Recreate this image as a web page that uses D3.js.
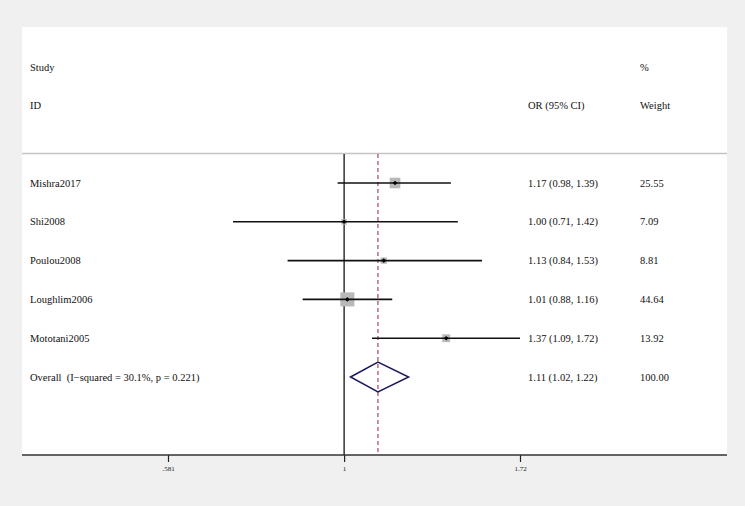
<!DOCTYPE html>
<html><head><meta charset="utf-8">
<script src="https://cdn.jsdelivr.net/npm/d3@7"></script>
<style>body{margin:0;background:#f0f0f0;}svg{display:block;}text{white-space:pre;}</style>
</head><body>
<svg id="c" width="745" height="506"></svg>
<script>
const studies = ["Mishra2017","Shi2008","Poulou2008","Loughlim2006","Mototani2005"];
const orVals = [1.17, 1.00, 1.13, 1.01, 1.37];
const lower = [0.98, 0.71, 0.84, 0.88, 1.09];
const upper = [1.39, 1.42, 1.53, 1.16, 1.72];
const weights = [25.55, 7.09, 8.81, 44.64, 13.92];
const overall = {label:"Overall  (I\u2212squared = 30.1%, p = 0.221)", or:1.11, lo:1.02, hi:1.22, w:100.00};
const tickVals = [0.581, 1, 1.72];
const tickLabels = [".581","1","1.72"];

(function(){
const svg = d3.select("#c");
const font = "'Liberation Serif','Times New Roman',serif";
const pLeft = 22, pRight = 727, pTop = 27, axisY = 455;

svg.append("rect").attr("x",pLeft).attr("y",pTop).attr("width",pRight-pLeft).attr("height",axisY-pTop).attr("fill","#fff");

const x = d3.scaleLog().domain([0.581,1.72]).range([168,520]);
const rows = studies.concat(["__overall"]);
const y = d3.scalePoint().domain(rows).range([183,377]);

const hdr = svg.append("g").attr("font-family",font).attr("font-size",10.5).attr("fill","#111");
hdr.append("text").attr("x",30).attr("y",71).text("Study");
hdr.append("text").attr("x",30).attr("y",109).text("ID");
hdr.append("text").attr("x",528).attr("y",109).text("OR (95% CI)");
hdr.append("text").attr("x",640).attr("y",71).text("%");
hdr.append("text").attr("x",640).attr("y",109).text("Weight");

svg.append("line").attr("x1",pLeft).attr("x2",pRight).attr("y1",153.5).attr("y2",153.5).attr("stroke","#c4c4c4").attr("stroke-width",1.3);

svg.append("line").attr("x1",x(1)).attr("x2",x(1)).attr("y1",154).attr("y2",axisY).attr("stroke","#000").attr("stroke-width",1.2);
svg.append("line").attr("x1",x(overall.or)).attr("x2",x(overall.or)).attr("y1",154).attr("y2",axisY)
  .attr("stroke","#9b2335").attr("stroke-width",1).attr("stroke-dasharray","4,3");

const data = studies.map((s,i)=>({s, or:orVals[i], lo:lower[i], hi:upper[i], w:weights[i]}));
const g = svg.append("g");
data.forEach(d=>{
  const cy = y(d.s);
  const side = Math.sqrt(d.w)*2.1;
  g.append("rect").attr("x",x(d.or)-side/2).attr("y",cy-side/2).attr("width",side).attr("height",side).attr("fill","#b8b8b8");
  g.append("line").attr("x1",x(d.lo)).attr("x2",x(d.hi)).attr("y1",cy).attr("y2",cy).attr("stroke","#111").attr("stroke-width",1.6);
  g.append("path").attr("d",`M${x(d.or)-2.3},${cy}L${x(d.or)},${cy-2.3}L${x(d.or)+2.3},${cy}L${x(d.or)},${cy+2.3}Z`).attr("fill","#000");
  const t = g.append("g").attr("font-family",font).attr("font-size",10.5).attr("fill","#111");
  t.append("text").attr("x",30).attr("y",cy+3.5).text(d.s);
  t.append("text").attr("x",528).attr("y",cy+3.5).text(`${d.or.toFixed(2)} (${d.lo.toFixed(2)}, ${d.hi.toFixed(2)})`);
  t.append("text").attr("x",640).attr("y",cy+3.5).text(d.w.toFixed(2));
});

const oy = y("__overall");
svg.append("path").attr("d",`M${x(overall.lo)},${oy}L${x(overall.or)},${oy-15}L${x(overall.hi)},${oy}L${x(overall.or)},${oy+15}Z`)
  .attr("fill","none").attr("stroke","#1a1a5e").attr("stroke-width",1.5);
const ot = svg.append("g").attr("font-family",font).attr("font-size",10.5).attr("fill","#111");
ot.append("text").attr("x",30).attr("y",oy+3.5).attr("xml:space","preserve").text(overall.label);
ot.append("text").attr("x",528).attr("y",oy+3.5).text(`${overall.or.toFixed(2)} (${overall.lo.toFixed(2)}, ${overall.hi.toFixed(2)})`);
ot.append("text").attr("x",640).attr("y",oy+3.5).text(overall.w.toFixed(2));

const axis = d3.axisBottom(x).tickValues(tickVals).tickFormat((d,i)=>tickLabels[i]).tickSize(7).tickSizeOuter(0);
const ag = svg.append("g").attr("transform",`translate(0,${axisY})`).call(axis);
ag.select(".domain").remove();
ag.selectAll(".tick line").attr("stroke","#222").attr("stroke-width",1.2);
ag.selectAll(".tick text").attr("font-family",font).attr("font-size",7).attr("fill","#222").attr("dy","0.9em");
svg.append("line").attr("x1",pLeft).attr("x2",pRight).attr("y1",axisY).attr("y2",axisY).attr("stroke","#333").attr("stroke-width",1.4);
})();
</script>
</body></html>
